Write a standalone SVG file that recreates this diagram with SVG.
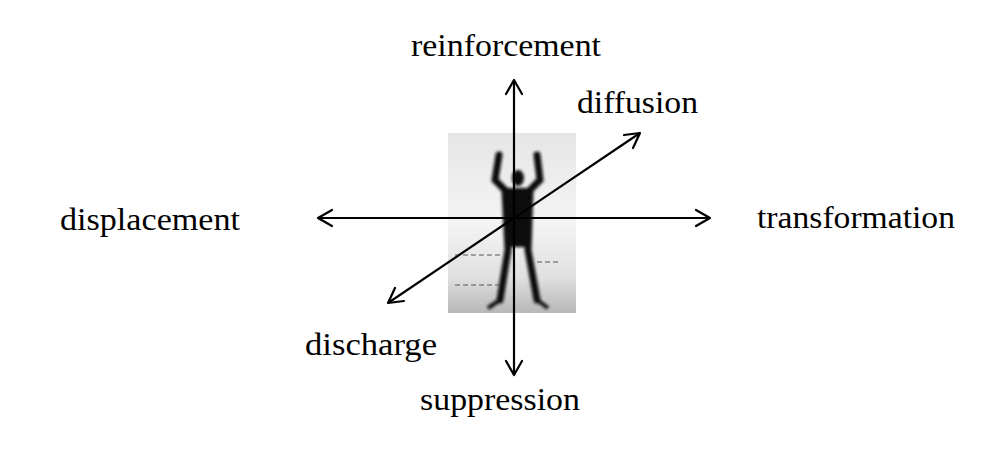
<svg xmlns="http://www.w3.org/2000/svg" width="994" height="456" viewBox="0 0 994 456">
<style>
text{font-family:"Liberation Serif",serif;font-size:32px;fill:#000}
.ax{stroke:#000;stroke-width:2.2;fill:none}
.hd{stroke:#000;stroke-width:2.2;fill:none;stroke-linecap:round;stroke-linejoin:round}
</style>
<defs>
<linearGradient id="bg" x1="0" y1="0" x2="0" y2="1">
<stop offset="0" stop-color="#e6e6e6"/><stop offset="0.5" stop-color="#f4f4f4"/><stop offset="0.8" stop-color="#e0e0e0"/><stop offset="1" stop-color="#b8b8b8"/>
</linearGradient>
<filter id="bl"><feGaussianBlur stdDeviation="1.5"/></filter>
</defs>
<rect width="994" height="456" fill="#fff"/>
<g id="figure">
<rect x="448" y="133" width="128" height="180" fill="url(#bg)"/>
<g filter="url(#bl)" fill="#111" stroke="#111">
<ellipse cx="518" cy="178" rx="6" ry="8" stroke="none"/>
<path d="M499 155 L495 180 L505 190 L508 250 L500 300 M537 155 L540 180 L530 190 L528 250 L537 300" stroke-width="7" fill="none" stroke-linecap="round"/>
<path d="M505 188 L531 188 L530 247 L506 247 Z" stroke="none"/>
<path d="M500 300 L488 308 M537 300 L548 308" stroke-width="4"/>
</g>
<path d="M455 255 H500 M537 262 H560 M455 285 H500" stroke="#555" stroke-width="1" stroke-dasharray="5 3"/>
</g>
<g id="connectors">
<line class="ax" x1="514" y1="80" x2="514" y2="375"/>
<polyline class="hd" points="506,94 514,80 522,94"/>
<polyline class="hd" points="506,361 514,375 522,361"/>
<line class="ax" x1="318" y1="218" x2="710" y2="218"/>
<polyline class="hd" points="332,210 318,218 332,226"/>
<polyline class="hd" points="696,210 710,218 696,226"/>
<line class="ax" x1="388" y1="303" x2="640" y2="133"/>
<polyline class="hd" points="624,135 640,133 633,148"/>
<polyline class="hd" points="395,288 388,303 404,301"/>
</g>
<g id="labels">
<text x="411" y="56" textLength="190" lengthAdjust="spacingAndGlyphs">reinforcement</text>
<text x="577" y="113" textLength="121" lengthAdjust="spacingAndGlyphs">diffusion</text>
<text x="60" y="230" textLength="180" lengthAdjust="spacingAndGlyphs">displacement</text>
<text x="757" y="228" textLength="198" lengthAdjust="spacingAndGlyphs">transformation</text>
<text x="305" y="355" textLength="132" lengthAdjust="spacingAndGlyphs">discharge</text>
<text x="420" y="410" textLength="160" lengthAdjust="spacingAndGlyphs">suppression</text>
</g>
</svg>
